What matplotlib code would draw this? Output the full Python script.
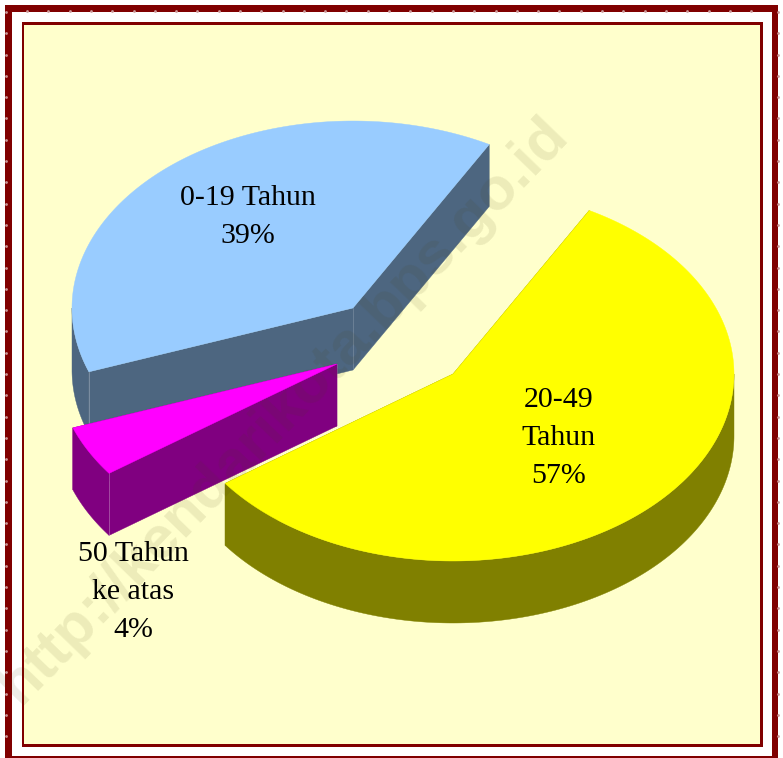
from matplotlib import pyplot as plt
from matplotlib.patches import Polygon, Rectangle
import numpy as np

labels = ['0-19 Tahun\n39%', '50 Tahun\nke atas\n4%', '20-49\nTahun\n57%']
shares = [38.6, 4.4, 57.0]
top_colors = ['#99CCFF', '#FF00FF', '#FFFF00']
side_colors = ['#4D6680', '#800080', '#808000']

# layout of the exploded slices, in pixels of the 783x758 image
centers = [(353, 308), (337, 364), (453, 374)]
label_pos = [(248, 217), (133, 592), (559, 438)]
rx = 281
ry = 187
depth = 62
start_angle = 61

fig = plt.figure(figsize=(7.83, 7.58), dpi=100)
ax = fig.add_axes([0, 0, 1, 1])
ax.set_xlim(0, 783)
ax.set_ylim(758, 0)
ax.axis('off')


def arc(center, a0, a1, dy=0):
    t = np.radians(np.linspace(a0, a1, 200))
    return np.column_stack([center[0] + rx * np.cos(t), center[1] - ry * np.sin(t) + dy])


def rect(x0, y0, x1, y1, **kw):
    ax.add_patch(Rectangle((x0, y0), x1 - x0, y1 - y0, linewidth=0, **kw))


# frame
rect(0, 0, 783, 758, facecolor='white', zorder=0)
rect(5, 5, 778, 758, facecolor='#800000', zorder=0.1)
rect(11.5, 11.5, 772, 756, facecolor='white', zorder=0.2)
rect(21.5, 22, 763, 747, facecolor='#800000', zorder=0.3)
rect(24, 24.5, 760, 744, facecolor='#FFFFCC', zorder=0.4)

dots = np.arange(27, 770, 21.3)
ax.plot(dots, np.full(len(dots), 11), ls='none', marker='o', ms=2, mew=0, color='#C99', zorder=0.5)
dots = np.arange(12, 750, 21.3)
ax.plot(np.full(len(dots), 5.5), dots, ls='none', marker='o', ms=2, mew=0, color='#C99', zorder=0.5)
ax.plot(np.full(len(dots), 778), dots, ls='none', marker='o', ms=2, mew=0, color='#C99', zorder=0.5)

# slices, back to front
ends = start_angle + np.cumsum(shares) * 3.6
starts = ends - np.array(shares) * 3.6

for i in range(len(shares)):
    c = centers[i]
    a0, a1 = starts[i], ends[i]
    top = arc(c, a0, a1)
    z = 1 + i
    # cut faces
    for p in (top[0], top[-1]):
        face = [c, p, (p[0], p[1] + depth), (c[0], c[1] + depth)]
        ax.add_patch(Polygon(face, facecolor=side_colors[i], edgecolor=side_colors[i], lw=0.3, zorder=z))
    # outer rim, front half only
    r0 = max(a0, 180)
    r1 = min(a1, 360)
    rim = np.vstack([arc(c, r0, r1), arc(c, r0, r1, depth)[::-1]])
    ax.add_patch(Polygon(rim, facecolor=side_colors[i], edgecolor=side_colors[i], lw=0.3, zorder=z + 0.1))
    # light seams on the corners
    if i < 2:
        p = top[-1]
        ax.plot([p[0], p[0]], [p[1], p[1] + depth], color='white', alpha=0.3, lw=0.6, zorder=z + 0.2)
        ax.plot([c[0], c[0]], [c[1], c[1] + depth], color='white', alpha=0.2, lw=0.6, zorder=z + 0.2)
    poly = np.vstack([[c], top])
    ax.add_patch(Polygon(poly, facecolor=top_colors[i], edgecolor=top_colors[i], lw=0.3, zorder=z + 5))

# watermark sits over the side faces, under the bright tops
ax.text(284, 410, 'http://kendarikota.bps.go.id', rotation=46, rotation_mode='anchor',
        ha='center', va='center', family='Liberation Sans', fontweight='bold', fontsize=43.5,
        color='#4A4010', alpha=0.1, zorder=3.4, clip_on=True)

for i in range(len(labels)):
    ax.text(label_pos[i][0], label_pos[i][1], labels[i], ha='center', va='center',
            family='Liberation Serif', fontsize=21.5, linespacing=1.6, color='black', zorder=10)

fig.savefig('out.png', dpi=100)
